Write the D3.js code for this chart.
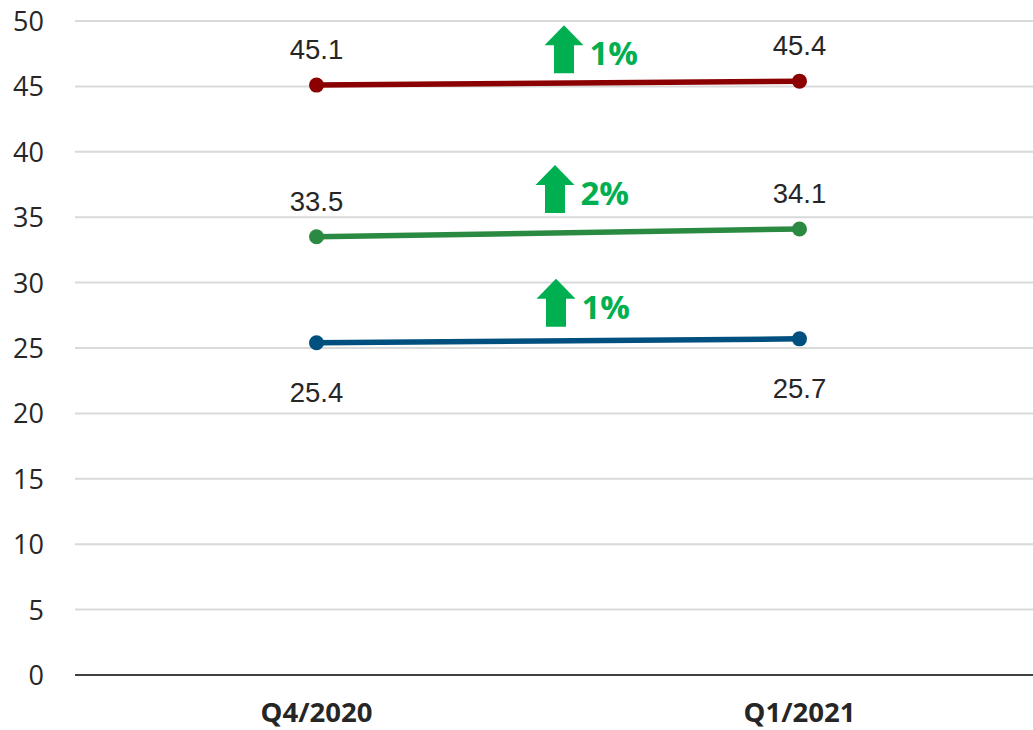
<!DOCTYPE html>
<html>
<head>
<meta charset="utf-8">
<script src="https://cdn.jsdelivr.net/npm/d3@7/dist/d3.min.js"></script>
<style>
  html, body { margin: 0; padding: 0; background: #ffffff; }
  svg { display: block; }
</style>
</head>
<body>
<svg id="chart" width="1033" height="730"></svg>
<script>
// ---- data ----
const categories = ["Q4/2020", "Q1/2021"];
const seriesNames = ["top", "middle", "bottom"];
const seriesValues = [
  [45.1, 45.4],
  [33.5, 34.1],
  [25.4, 25.7]
];
const changeLabels = ["1%", "2%", "1%"];
const yTicks = [0, 5, 10, 15, 20, 25, 30, 35, 40, 45, 50];

// ---- layout / styles ----
const W = 1033, H = 730;
const mLeft = 75, mRight = 1041, mTop = 21, mBottom = 675;
const colors = ["#8b0000", "#2a8a41", "#00507f"];
const arrowGreen = "#00b050";
const labelAbove = [true, true, false];
const annot = [{dx: 6, dy: -10}, {dx: -3, dy: -20}, {dx: -2, dy: -14}];

const svg = d3.select("#chart");

const x = d3.scaleBand().domain(categories).range([mLeft, mRight]).padding(0);
const y = d3.scaleLinear().domain([0, 50]).range([mBottom, mTop]);
const cx = c => x(c) + x.bandwidth() / 2;

// gridlines
svg.append("g")
  .selectAll("line")
  .data(yTicks.filter(t => t !== 0))
  .join("line")
  .attr("x1", mLeft).attr("x2", W)
  .attr("y1", d => y(d)).attr("y2", d => y(d))
  .attr("stroke", "#d9d9d9").attr("stroke-width", 2);

// y axis labels
const yAxis = d3.axisLeft(y).tickValues(yTicks).tickSize(0).tickPadding(0);
const yg = svg.append("g").attr("transform", `translate(${mLeft - 31},0)`).call(yAxis);
yg.select(".domain").remove();
yg.selectAll("text")
  .attr("font-family", "'Open Sans', 'Noto Sans', sans-serif")
  .attr("font-size", 27)
  .attr("fill", "#262626")
  .attr("dy", "0.35em");

// x axis baseline
svg.append("line")
  .attr("x1", mLeft).attr("x2", W)
  .attr("y1", y(0)).attr("y2", y(0))
  .attr("stroke", "#404040").attr("stroke-width", 2);

// x axis labels
const xAxis = d3.axisBottom(x).tickSize(0).tickPadding(0);
const xg = svg.append("g").attr("transform", `translate(0,${mBottom})`).call(xAxis);
xg.select(".domain").remove();
xg.selectAll("text")
  .attr("font-family", "'Open Sans', 'Noto Sans', sans-serif")
  .attr("font-weight", 700)
  .attr("font-size", 27.5)
  .attr("fill", "#262626")
  .attr("y", 47)
  .attr("dy", 0);

// lines + markers + labels
const line = d3.line().x((d, i) => cx(categories[i])).y(d => y(d));

seriesValues.forEach((vals, s) => {
  const g = svg.append("g").attr("class", "series-" + seriesNames[s]);
  g.append("path")
    .attr("d", line(vals))
    .attr("fill", "none")
    .attr("stroke", colors[s])
    .attr("stroke-width", 5.5)
    .attr("stroke-linecap", "round");
  g.selectAll("circle")
    .data(vals)
    .join("circle")
    .attr("cx", (d, i) => cx(categories[i]))
    .attr("cy", d => y(d))
    .attr("r", 7.5)
    .attr("fill", colors[s]);
  g.selectAll("text.val")
    .data(vals)
    .join("text")
    .attr("class", "val")
    .attr("x", (d, i) => cx(categories[i]))
    .attr("y", d => y(d) + (labelAbove[s] ? -26 : 59))
    .attr("text-anchor", "middle")
    .attr("font-family", "'Liberation Sans', Arial, sans-serif")
    .attr("font-size", 27.5)
    .attr("fill", "#262626")
    .text(d => d.toFixed(1));

  // change annotation: arrow + percent
  const midV = (vals[0] + vals[1]) / 2;
  const ax = (cx(categories[0]) + cx(categories[1])) / 2 + annot[s].dx;
  const ab = y(midV) + annot[s].dy; // arrow bottom
  const aH = 48, headH = 20, headW = 39, shaftW = 20;
  const pts = [
    [ax - shaftW / 2, ab],
    [ax - shaftW / 2, ab - (aH - headH)],
    [ax - headW / 2, ab - (aH - headH)],
    [ax, ab - aH],
    [ax + headW / 2, ab - (aH - headH)],
    [ax + shaftW / 2, ab - (aH - headH)],
    [ax + shaftW / 2, ab]
  ];
  g.append("polygon")
    .attr("points", pts.map(p => p.join(",")).join(" "))
    .attr("fill", arrowGreen);
  g.append("text")
    .attr("class", "pct")
    .attr("x", ax + headW / 2 + 6)
    .attr("y", ab - 8)
    .attr("font-family", "'Open Sans', 'Noto Sans', sans-serif")
    .attr("font-weight", 700)
    .attr("font-size", 33)
    .attr("fill", arrowGreen)
    .text(changeLabels[s]);
});
</script>
</body>
</html>
